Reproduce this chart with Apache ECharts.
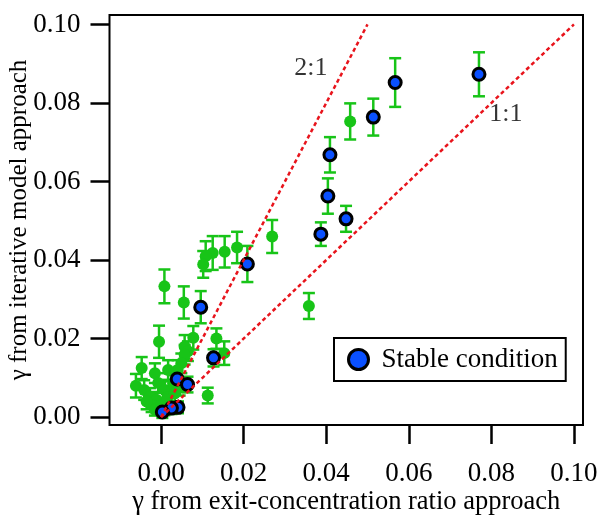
<!DOCTYPE html>
<html>
<head>
<meta charset="utf-8">
<script src="https://cdn.jsdelivr.net/npm/echarts@6/dist/echarts.min.js"></script>
<style>
  html, body { margin: 0; padding: 0; background: #ffffff; }
  #chart { width: 598px; height: 516px; }
</style>
</head>
<body>
<div id="chart"></div>
<script>
// Uptake coefficient from the two estimation methods.
// Stable-condition runs (blue, black ring) with their uncertainty.
const stableX   = [0.0770, 0.0567, 0.0514, 0.0409, 0.0404, 0.0448, 0.0387, 0.0209, 0.0096, 0.0127, 0.0039, 0.0064, 0.0041, 0.0025, 0.0003];
const stableY   = [0.0873, 0.0852, 0.0764, 0.0668, 0.0563, 0.0505, 0.0466, 0.0390, 0.0280, 0.0151, 0.0097, 0.0083, 0.0025, 0.0023, 0.0013];
const stableErr = [0.0056, 0.0062, 0.0047, 0.0045, 0.0045, 0.0033, 0.0030, 0.0046, 0.0041, 0.0022, 0.0020, 0.0020, 0.0015, 0.0015, 0.0015];

// All other runs (green).
const otherX = [0.0458, 0.0269, 0.0358, 0.0184, 0.0154, 0.0125, 0.0108, 0.0102, 0.0008, 0.0055,
                -0.0005, 0.0078, 0.0134, 0.0153, 0.0113, 0.0057, 0.0065, 0.0057, 0.0049, 0.0040,
                0.0017, -0.0047, -0.0015, -0.0061, -0.0041, -0.0027, -0.0007, 0.0009, 0.0029, -0.0011,
                -0.0023, -0.0015, 0.0000, 0.0015, 0.0033, 0.0045, 0.0008, -0.0035];
const otherY = [0.0753, 0.0460, 0.0283, 0.0432, 0.0421, 0.0418, 0.0410, 0.0389, 0.0333, 0.0292,
                0.0192, 0.0202, 0.0200, 0.0163, 0.0055, 0.0179, 0.0168, 0.0159, 0.0137, 0.0120,
                0.0120, 0.0125, 0.0112, 0.0080, 0.0069, 0.0052, 0.0087, 0.0069, 0.0085, 0.0044,
                0.0031, 0.0019, 0.0030, 0.0050, 0.0060, 0.0075, 0.0020, 0.0040];
const otherErr = [0.0046, 0.0042, 0.0033, 0.0040, 0.0040, 0.0043, 0.0038, 0.0034, 0.0043, 0.0041,
                  0.0041, 0.0030, 0.0026, 0.0030, 0.0020, 0.0030, 0.0025, 0.0025, 0.0025, 0.0025,
                  0.0025, 0.0028, 0.0025, 0.0030, 0.0025, 0.0022, 0.0025, 0.0022, 0.0022, 0.0020,
                  0.0018, 0.0015, 0.0018, 0.0020, 0.0020, 0.0020, 0.0015, 0.0020];

// Reference ratio lines (y : x)
const line21X = [0, 0.05];
const line21Y = [0, 0.10];
const line11X = [0, 0.10];
const line11Y = [0, 0.10];

// Tick values on both axes
const xTicks = [0, 0.02, 0.04, 0.06, 0.08, 0.10];
const yTicks = [0, 0.02, 0.04, 0.06, 0.08, 0.10];

const GREEN = '#18c418';
const BLUE = '#0a50ff';
const RED = '#e8141c';
const FONT = '"Liberation Serif", "DejaVu Serif", serif';

const zip = (xs, ys) => xs.map((x, i) => [x, ys[i]]);
const bars = (xs, ys, es) => xs.map((x, i) => [x, ys[i] - es[i], ys[i] + es[i]]);

function renderErrorBar(params, api) {
  const x = api.value(0);
  const top = api.coord([x, api.value(2)]);
  const bot = api.coord([x, api.value(1)]);
  const cap = 6;
  const style = { stroke: GREEN, lineWidth: 2.5, fill: null };
  return {
    type: 'group',
    children: [
      { type: 'line', shape: { x1: top[0], y1: top[1], x2: bot[0], y2: bot[1] }, style },
      { type: 'line', shape: { x1: top[0] - cap, y1: top[1], x2: top[0] + cap, y2: top[1] }, style },
      { type: 'line', shape: { x1: bot[0] - cap, y1: bot[1], x2: bot[0] + cap, y2: bot[1] }, style }
    ]
  };
}

const chart = echarts.init(document.getElementById('chart'), null, { renderer: 'canvas' });

const tickFmt = v => v.toFixed(2);

chart.setOption({
  animation: false,
  backgroundColor: '#ffffff',
  grid: {
    left: 109.5, top: 15, right: 15, bottom: 91,
    outerBoundsMode: 'none', containLabel: false,
    show: true, borderColor: '#000', borderWidth: 2, backgroundColor: 'transparent'
  },
  xAxis: {
    type: 'value',
    min: -0.0125, max: 0.1022,
    name: 'γ from exit-concentration ratio approach',
    nameLocation: 'middle', nameGap: 64, nameMoveOverlap: false,
    nameTextStyle: { fontFamily: FONT, fontSize: 26.5, color: '#000' },
    axisLine: { show: false, onZero: false },
    splitLine: { show: false },
    axisTick: { show: true, inside: false, length: 19, customValues: xTicks,
                lineStyle: { color: '#000', width: 2.5 } },
    axisLabel: { show: true, customValues: xTicks, formatter: tickFmt, margin: 35,
                 fontFamily: FONT, fontSize: 27, color: '#000' }
  },
  yAxis: {
    type: 'value',
    min: -0.002, max: 0.1024,
    name: 'γ from iterative model approach',
    nameLocation: 'middle', nameGap: 78, nameMoveOverlap: false,
    nameTextStyle: { fontFamily: FONT, fontSize: 25, color: '#000' },
    axisLine: { show: false, onZero: false },
    splitLine: { show: false },
    axisTick: { show: true, inside: false, length: 19, customValues: yTicks,
                lineStyle: { color: '#000', width: 2.5 } },
    axisLabel: { show: true, customValues: yTicks, formatter: tickFmt, margin: 29,
                 fontFamily: FONT, fontSize: 27, color: '#000' }
  },
  legend: {
    data: ['Stable condition'],
    left: 334, top: 338,
    borderColor: '#000', borderWidth: 2,
    padding: [8, 8, 8, 13],
    itemWidth: 20, itemHeight: 20,
    icon: 'circle',
    itemStyle: { color: BLUE, borderColor: '#000', borderWidth: 3 },
    textStyle: { fontFamily: FONT, fontSize: 27, color: '#000', padding: [0, 0, 0, 8] }
  },
  series: [
    {
      name: 'errors-other', type: 'custom', renderItem: renderErrorBar,
      data: bars(otherX, otherY, otherErr), encode: { x: 0, y: [1, 2] }, z: 1, silent: true
    },
    {
      name: 'errors-stable', type: 'custom', renderItem: renderErrorBar,
      data: bars(stableX, stableY, stableErr), encode: { x: 0, y: [1, 2] }, z: 1, silent: true
    },
    {
      name: 'Other condition', type: 'scatter', data: zip(otherX, otherY),
      symbol: 'circle', symbolSize: 12,
      itemStyle: { color: GREEN, opacity: 1 }, z: 2
    },
    {
      name: 'Stable condition', type: 'scatter', data: zip(stableX, stableY),
      symbol: 'circle', symbolSize: 12,
      itemStyle: { color: BLUE, borderColor: '#000', borderWidth: 3, opacity: 1 }, z: 3
    },
    {
      name: '2:1', type: 'line', data: zip(line21X, line21Y), symbol: 'none',
      lineStyle: { color: RED, width: 2.5, type: [4, 3] }, z: 4, silent: true
    },
    {
      name: '1:1', type: 'line', data: zip(line11X, line11Y), symbol: 'none',
      lineStyle: { color: RED, width: 2.5, type: [4, 3] }, z: 4, silent: true
    },
    {
      name: 'ratio-labels', type: 'scatter', symbolSize: 0, silent: true, z: 5,
      data: [
        { value: [0.0363, 0.0889], name: '2:1' },
        { value: [0.0835, 0.0772], name: '1:1' }
      ],
      label: {
        show: true, position: 'inside', formatter: p => p.name,
        fontFamily: FONT, fontSize: 26, color: '#000'
      }
    }
  ]
});
</script>
</body>
</html>
